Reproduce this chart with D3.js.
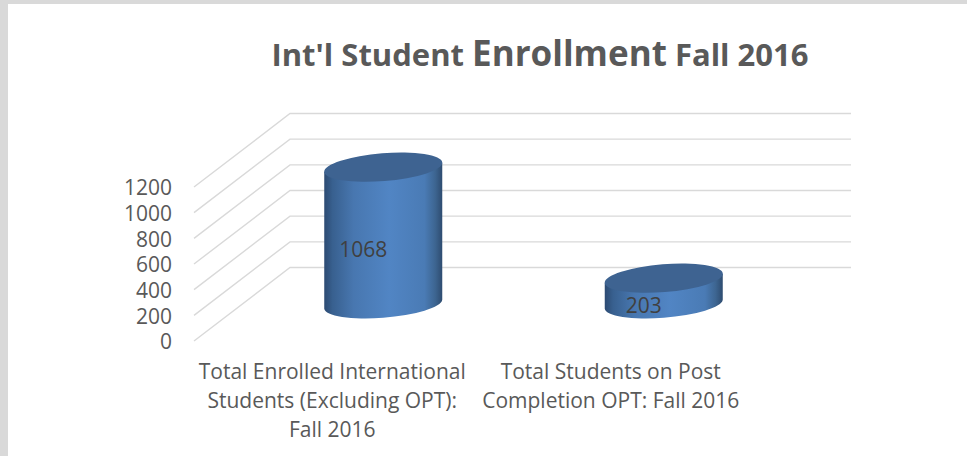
<!DOCTYPE html>
<html>
<head>
<meta charset="utf-8">
<script src="https://cdn.jsdelivr.net/npm/d3@7"></script>
<style>
  html, body { margin: 0; padding: 0; background: #fff; overflow: hidden; }
  svg { display: block; }
  text { font-family: "Open Sans", Lato, sans-serif; fill: #595959; }
</style>
</head>
<body>
<div id="chart"></div>
<script>
const categories = [
    ["Total Enrolled International", "Students (Excluding OPT):", "Fall 2016"],
    ["Total Students on Post", "Completion OPT: Fall 2016"]
];
const values = [1068, 203];
const tickValues = [0, 200, 400, 600, 800, 1000, 1200];
const titleParts = ["Int'l Student ", "Enrollment", " Fall 2016"];

const width = 967;
const height = 456;

const svg = d3.select("#chart")
    .append("svg")
    .attr("width", width)
    .attr("height", height);

// page frame
svg.append("rect").attr("width", width).attr("height", height).attr("fill", "#d9d9d9");
svg.append("rect").attr("x", 8).attr("y", 4).attr("width", width - 8).attr("height", height - 4).attr("fill", "#fff");

// 3d look: the back wall is the front plane shifted by this depth
const depth = { x: 96, y: -73.5 };

const x = d3.scaleBand().domain(d3.range(values.length)).range([194, 755]);
const y = d3.scaleLinear().domain([0, 1200]).range([341, 187]);

// cylinders stand half way into the depth
const barX = i => x(i) + x.bandwidth() / 2 + depth.x / 2 + 1;
const barY = v => y(v) + depth.y / 2;

// gridlines
const grid = svg.append("g")
    .attr("fill", "none")
    .attr("stroke", "#d9d9d9")
    .attr("stroke-width", 1.4);

grid.selectAll("path")
    .data(tickValues)
    .join("path")
    .attr("d", d => d3.line()([
        [x.range()[0], y(d)],
        [x.range()[0] + depth.x, y(d) + depth.y],
        [x.range()[1] + depth.x, y(d) + depth.y]
    ]));

// value axis, labels only
const axis = svg.append("g")
    .attr("transform", "translate(181,1)")
    .call(d3.axisLeft(y).tickValues(tickValues).tickSize(0).tickPadding(9).tickFormat(d3.format("d")));
axis.select(".domain").remove();
axis.selectAll("text")
    .attr("font-size", 21)
    .style("font-family", "'Open Sans', Lato, sans-serif");

// cylinder shading
const defs = svg.append("defs");
const gradient = defs.append("linearGradient").attr("id", "side");
[
    [0, "#2c4a72"],
    [0.07, "#38608f"],
    [0.25, "#4877b0"],
    [0.55, "#5185c4"],
    [0.85, "#4a7bb5"],
    [0.94, "#3d6591"],
    [1, "#2e4c70"]
].forEach(d => gradient.append("stop").attr("offset", d[0]).attr("stop-color", d[1]));

// ellipse of the cylinder cap
const rx = 59.2;
const ry = 13.9;
const tilt = -4.6;
const edgeX = 59;
const edgeY = 4.5;

const bars = svg.append("g")
    .selectAll("g")
    .data(values)
    .join("g");

bars.append("path")
    .attr("fill", "url(#side)")
    .attr("d", (d, i) => {
        const cx = barX(i);
        const top = barY(d);
        const base = barY(0);
        return `M${cx - edgeX},${top + edgeY}` +
            `L${cx - edgeX},${base + edgeY}` +
            `A${rx},${ry} ${tilt} 0 0 ${cx + edgeX},${base - edgeY}` +
            `L${cx + edgeX},${top - edgeY}Z`;
    });

bars.append("ellipse")
    .attr("rx", rx)
    .attr("ry", ry)
    .attr("fill", "#3e6391")
    .attr("transform", (d, i) => `translate(${barX(i)},${barY(d)}) rotate(${tilt})`);

// data labels
bars.append("text")
    .attr("x", (d, i) => barX(i) - 20)
    .attr("y", d => (barY(d) + barY(0)) / 2 + 14)
    .attr("dy", "0.35em")
    .attr("text-anchor", "middle")
    .attr("font-size", 21)
    .style("fill", "#404040")
    .text(d => d);

// category labels
const labels = svg.append("g")
    .selectAll("text")
    .data(categories)
    .join("text")
    .attr("text-anchor", "middle")
    .attr("font-size", 21);

labels.selectAll("tspan")
    .data((d, i) => d.map(line => ({ line: line, i: i })))
    .join("tspan")
    .attr("x", d => x(d.i) + x.bandwidth() / 2 - 2 - d.i * 2)
    .attr("y", (d, j) => 378.5 + j * 29)
    .text(d => d.line);

// title
const title = svg.append("text")
    .attr("x", 540)
    .attr("y", 66)
    .attr("text-anchor", "middle");

title.selectAll("tspan")
    .data(titleParts)
    .join("tspan")
    .attr("font-size", (d, i) => i === 1 ? 35 : 31)
    .attr("font-weight", (d, i) => i === 1 ? 700 : 700)
    .style("white-space", "pre")
    .text(d => d);
</script>
</body>
</html>
